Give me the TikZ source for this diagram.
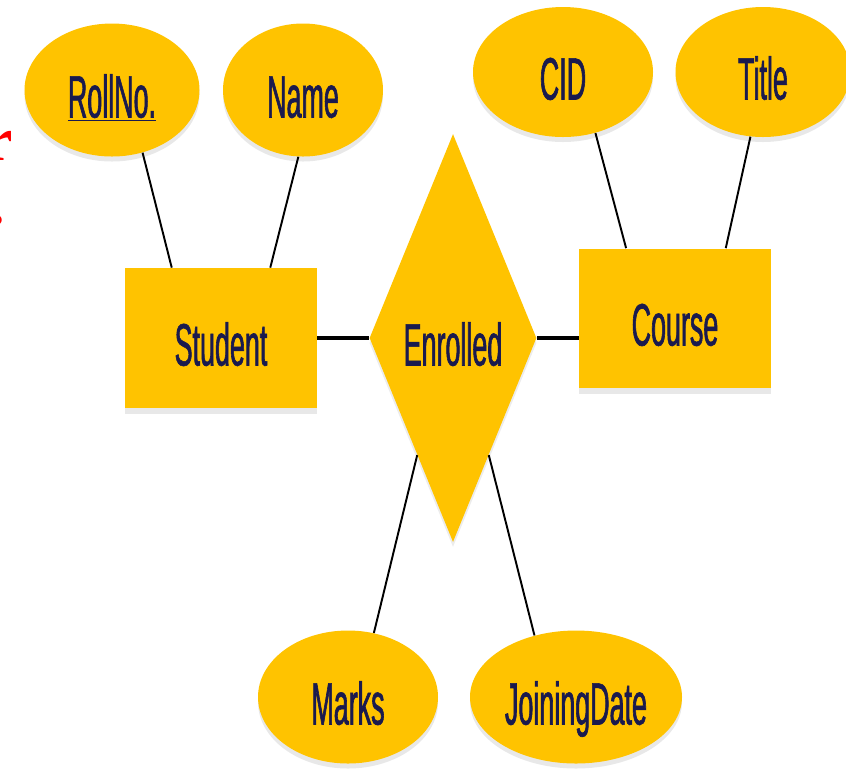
\documentclass[tikz,border=0pt]{standalone}
\usepackage{fontspec}
\usepackage{tikz}
\usetikzlibrary{shapes.geometric,shadows}
\usepackage{xcolor}

\newfontfamily\ernarrow[FakeStretch=0.45,FakeBold=1]{Liberation Sans}
\newfontfamily\slidefont{Liberation Serif}[BoldFont={Liberation Serif Bold}]
\definecolor{erfill}{HTML}{FFC300}
\definecolor{ertext}{HTML}{1A1A4E}

\begin{document}
\begin{tikzpicture}[
  every node/.style={align=center},
  ertxt/.style={font=\ernarrow\fontsize{34}{40}\selectfont, text=ertext,
                text height=1.1cm, text depth=0pt},
  attr/.style={ellipse, ertxt, fill=erfill, inner sep=0pt,
               minimum width=3.5cm, minimum height=2.66cm,
               drop shadow={shadow xshift=0pt, shadow yshift=-0.1cm, fill=gray!35}},
  entity/.style={rectangle, ertxt, fill=erfill, inner sep=0pt,
                 minimum width=3.84cm, minimum height=2.8cm,
                 drop shadow={shadow xshift=0pt, shadow yshift=-0.12cm, fill=gray!35}},
  relship/.style={diamond, ertxt, fill=erfill, inner sep=0pt,
                  minimum width=3.34cm, minimum height=8.16cm,
                  drop shadow={shadow xshift=0pt, shadow yshift=-0.1cm, fill=gray!30}},
  link/.style={draw=black, line width=1.1pt},
  biglink/.style={draw=black, line width=2.3pt},
  slidetxt/.style={font=\slidefont\bfseries\fontsize{35}{40}\selectfont, text=red,
                   anchor=base east, inner sep=0pt}
]
\useasboundingbox (0,0) rectangle (16.92,-15.4);

% leftover slide text
\node[slidetxt] (redr) at (0.27,-3.2) {r};
\node[slidetxt] (reddot) at (0.1,-4.48) {.};

% entities and relationship
\node[entity] (student) at (4.42,-6.76) {Student};
\node[entity, minimum height=2.78cm] (course) at (13.5,-6.36) {Course};
\node[relship] (enrolled) at (9.06,-6.76) {Enrolled};

% attributes
\node[attr] (rollno) at (2.24,-1.80) {\underline{RollNo.}};
\node[attr, minimum width=3.2cm] (name) at (6.06,-1.80) {Name};
\node[attr, minimum width=3.6cm, minimum height=2.6cm] (cid) at (11.26,-1.44) {CID};
\node[attr, minimum height=2.6cm] (title) at (15.26,-1.44) {Title};
\node[attr, minimum width=3.6cm] (marks) at (6.96,-13.94) {Marks};
\node[attr, minimum width=4.24cm] (joindate) at (11.52,-13.94) {JoiningDate};

\draw[link] (rollno.296) -- (student.125);
\draw[link] (name.266) -- (student.55);
\draw[link] (cid.298) -- (course.125);
\draw[link] (title.259) -- (course.54);
\draw[link] (marks.68) -- (enrolled.253);
\draw[link] (joindate.124) -- (enrolled.287);
\draw[biglink] (student.east) -- (enrolled.west);
\draw[biglink] (enrolled.east) -- (enrolled.east -| course.west);
\end{tikzpicture}
\end{document}
